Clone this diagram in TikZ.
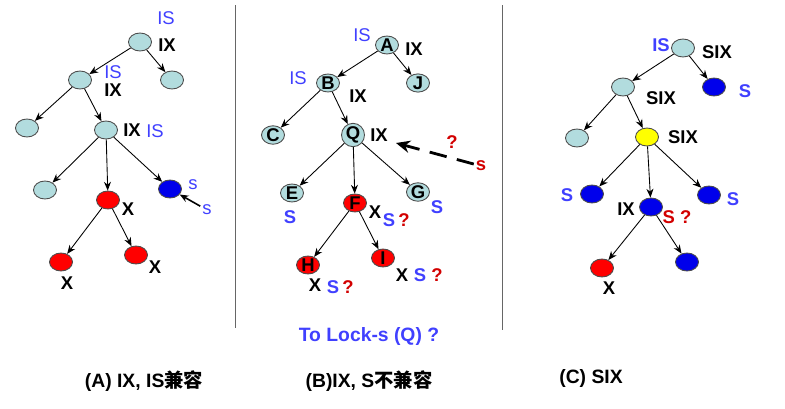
\documentclass[tikz,border=0pt]{standalone}
\usepackage{fontspec}
\setmainfont{Liberation Sans}
\newfontfamily\cjk{Noto Sans CJK SC}
\usetikzlibrary{shapes.geometric,arrows.meta}

\definecolor{lightnode}{RGB}{178,220,222}
\definecolor{rednode}{RGB}{255,0,0}
\definecolor{bluenode}{RGB}{0,0,235}
\definecolor{yellownode}{RGB}{255,255,0}
\definecolor{labelblue}{RGB}{64,64,255}
\definecolor{labelred}{RGB}{210,0,0}

\begin{document}
\begin{tikzpicture}[x=0.02cm,y=-0.02cm,
  tnode/.style={ellipse,draw=black!70,line width=0.5pt,minimum width=0.46cm,minimum height=0.36cm,inner sep=0pt,font=\fontsize{10.5}{11}\selectfont\bfseries},
  lnode/.style={tnode,fill=lightnode},
  rnode/.style={tnode,fill=rednode},
  bnode/.style={tnode,fill=bluenode},
  ynode/.style={tnode,fill=yellownode},
  edge/.style={-{Stealth[length=5pt,width=4pt]},line width=0.5pt},
  lbl/.style={inner sep=1pt,font=\fontsize{10.5}{12}\selectfont\bfseries},
  islbl/.style={inner sep=1pt,font=\fontsize{10.5}{12}\selectfont,text=labelblue},
  slbl/.style={lbl,text=labelblue},
  qlbl/.style={lbl,text=labelred},
  caption/.style={font=\fontsize{11}{13}\selectfont\bfseries}]
  \useasboundingbox (0,0) rectangle (785,409);

  %dividers
  \draw[black!60,line width=0.4pt] (235,5) -- (235,328);
  \draw[black!60,line width=0.4pt] (502,5) -- (502,330);

  %(A) tree
  \node[lnode] (a1) at (140,42) {};
  \node[lnode] (a2) at (80,80) {};
  \node[lnode] (a3) at (172,80) {};
  \node[lnode] (a4) at (27,128) {};
  \node[lnode] (a5) at (106,130) {};
  \node[lnode] (a6) at (45,190) {};
  \node[rnode] (a7) at (108,200) {};
  \node[bnode] (a8) at (170,189) {};
  \node[rnode] (a9) at (61,262) {};
  \node[rnode] (a10) at (136,255) {};
  \draw[edge] (a1) -- (a2);
  \draw[edge] (a1) -- (a3);
  \draw[edge] (a2) -- (a4);
  \draw[edge] (a2) -- (a5);
  \draw[edge] (a5) -- (a6);
  \draw[edge] (a5) -- (a7);
  \draw[edge] (a5) -- (a8);
  \draw[edge] (a7) -- (a9);
  \draw[edge] (a7) -- (a10);
  \node[islbl] (a1is) at (166,18) {IS};
  \node[lbl] (a1ix) at (167,45) {IX};
  \node[islbl] (a2is) at (113,72) {IS};
  \node[lbl] (a2ix) at (113,90) {IX};
  \node[lbl] (a5ix) at (132,130) {IX};
  \node[islbl] (a5is) at (155,131) {IS};
  \node[lbl] (a7x) at (128,209) {X};
  \node[islbl] (a8s) at (193,185) {s};
  \node[islbl] (a8req) at (207,210) {s};
  \node[lbl] (a9x) at (67,283) {X};
  \node[lbl] (a10x) at (155,267) {X};
  \draw[edge,line width=0.9pt] (a8req) -- (a8);

  %(B) tree
  \node[lnode] (A) at (387,45) {A};
  \node[lnode] (B) at (328,83) {B};
  \node[lnode] (J) at (418,83) {J};
  \node[lnode] (C) at (273,135) {C};
  \node[lnode] (Q) at (353,135) {Q};
  \node[lnode] (E) at (292,193) {E};
  \node[rnode] (F) at (355,203) {F};
  \node[lnode] (G) at (418,192) {G};
  \node[rnode] (H) at (308,265) {H};
  \node[rnode] (I) at (383,258) {I};
  \draw[edge] (A) -- (B);
  \draw[edge] (A) -- (J);
  \draw[edge] (B) -- (C);
  \draw[edge] (B) -- (Q);
  \draw[edge] (Q) -- (E);
  \draw[edge] (Q) -- (F);
  \draw[edge] (Q) -- (G);
  \draw[edge] (F) -- (H);
  \draw[edge] (F) -- (I);
  \node[islbl] (Ais) at (362,35) {IS};
  \node[lbl] (Aix) at (414,49) {IX};
  \node[islbl] (Bis) at (298,78) {IS};
  \node[lbl] (Bix) at (358,96) {IX};
  \node[lbl] (Qix) at (379,135) {IX};
  \node[slbl] (Es) at (290,217) {S};
  \node[lbl] (Fx) at (375,212) {X};
  \node[slbl] (Fs) at (389,220) {S};
  \node[qlbl] (Fq) at (404,220) {?};
  \node[slbl] (Gs) at (437,207) {S};
  \node[lbl] (Hx) at (315,285) {X};
  \node[slbl] (Hs) at (333,287) {S};
  \node[qlbl] (Hq) at (348,287) {?};
  \node[lbl] (Ix) at (402,275) {X};
  \node[slbl] (Is) at (420,275) {S};
  \node[qlbl] (Iq) at (437,275) {?};
  \node[qlbl] (Qq) at (452,142) {?};
  \node[qlbl] (Qreq) at (481,166) {s};
  \coordinate (Qend) at (396,143);
  \draw[-{Stealth[length=8pt,width=7pt]},line width=1.6pt,dash pattern=on 10pt off 6pt] (Qreq) -- (Qend);
  \node[caption,text=labelblue] (lockq) at (369,337) {To Lock-s (Q) ?};

  %(C) tree
  \node[lnode] (c1) at (683,48) {};
  \node[lnode] (c2) at (623,87) {};
  \node[bnode] (c3) at (714,87) {};
  \node[lnode] (c4) at (577,138) {};
  \node[ynode] (c5) at (647,137) {};
  \node[bnode] (c6) at (592,194) {};
  \node[bnode] (c7) at (651,207) {};
  \node[bnode] (c8) at (709,195) {};
  \node[rnode] (c9) at (602,268) {};
  \node[bnode] (c10) at (687,262) {};
  \draw[edge] (c1) -- (c2);
  \draw[edge] (c1) -- (c3);
  \draw[edge] (c2) -- (c4);
  \draw[edge] (c2) -- (c5);
  \draw[edge] (c5) -- (c6);
  \draw[edge] (c5) -- (c7);
  \draw[edge] (c5) -- (c8);
  \draw[edge] (c7) -- (c9);
  \draw[edge] (c7) -- (c10);
  \node[slbl] (c1is) at (661,45) {IS};
  \node[lbl] (c1six) at (717,52) {SIX};
  \node[slbl] (c3s) at (745,91) {S};
  \node[lbl] (c2six) at (661,98) {SIX};
  \node[lbl] (c5six) at (683,137) {SIX};
  \node[slbl] (c6s) at (567,195) {S};
  \node[slbl] (c8s) at (733,199) {S};
  \node[lbl] (c7ix) at (626,209) {IX};
  \node[qlbl] (c7q) at (677,217) {S ?};
  \node[lbl] (c9x) at (609,288) {X};

  %captions
  \node[caption] (capA) at (144,381) {(A) IX, IS{\cjk 兼容}};
  \node[caption] (capB) at (369,381) {(B)IX, S{\cjk 不兼容}};
  \node[caption] (capC) at (591,379) {(C) SIX};
\end{tikzpicture}
\end{document}
